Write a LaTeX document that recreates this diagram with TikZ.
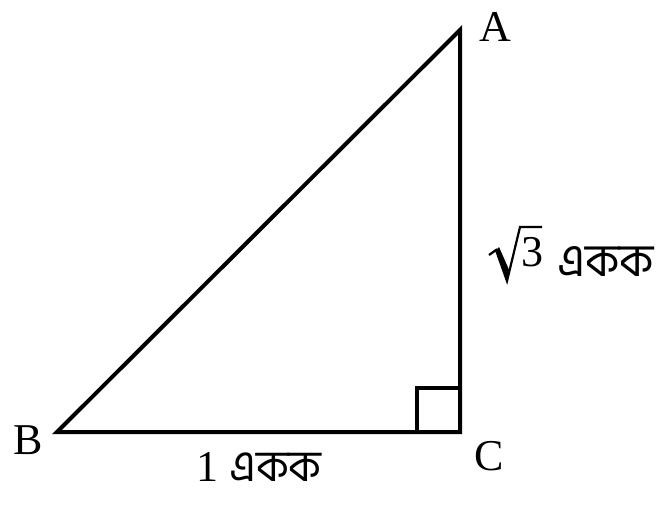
\documentclass[tikz,border=0pt]{standalone}
\usepackage{fontspec}
\setmainfont{Liberation Serif}
\newfontfamily\bnfont[Script=Bengali]{Hind Siliguri}
\begin{document}
\begin{tikzpicture}[x=1pt,y=-1pt,
  edge/.style={line width=4pt,line join=miter,line cap=rect},
  vlabel/.style={font=\fontsize{44}{48}\selectfont,inner sep=0pt},
  slabel/.style={font=\fontsize{44}{48}\selectfont,inner sep=0pt},
  radical/.style={line width=2.2pt,line join=miter}]
\useasboundingbox (0,0) rectangle (668,507);
\coordinate (B) at (57,432);
\coordinate (C) at (460,432);
\coordinate (A) at (460,30);
\draw[edge] (B) -- (C) -- (A) -- cycle;
\coordinate (s1) at (417,432);
\coordinate (s2) at (417,388);
\coordinate (s3) at (460,388);
\draw[line width=3.6pt] (s1) -- (s2) -- (s3);
\node[vlabel] (lA) at (495,27) {A};
\node[vlabel] (lB) at (28,440) {B};
\node[vlabel] (lC) at (489,456) {C};
% sqrt(3) unit label
\node[slabel] (three) at (532,252) {3};
\coordinate (r1) at (489,255);
\coordinate (r2) at (496,250);
\coordinate (r3) at (507,281);
\coordinate (r4) at (520,227);
\coordinate (r5) at (542,227);
\draw[radical] (r1) -- (r2) -- (r3) -- (r4) -- (r5);
\fill (r2) -- (507,281) -- (510,272) -- (499,247) -- cycle;
\node[slabel,anchor=west,font=\fontsize{46}{50}\selectfont] (unitAC) at (557,261) {\bnfont একক};
\node[slabel] (lBC) at (259,467) {1 {\bnfont একক}};
\end{tikzpicture}
\end{document}
